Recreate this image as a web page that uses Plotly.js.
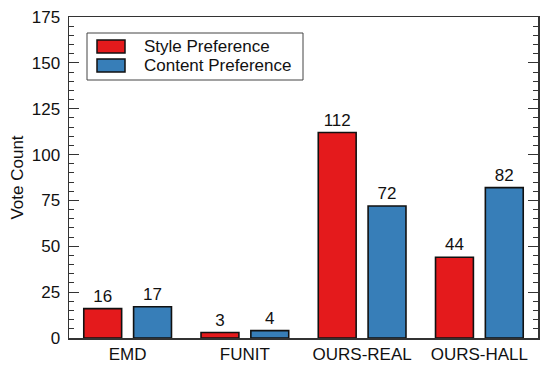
<!DOCTYPE html>
<html>
<head>
<meta charset="utf-8">
<script src="https://cdn.plot.ly/plotly-3.0.1.min.js"></script>
<style>html,body{margin:0;padding:0;background:#fff;}#chart{width:550px;height:369px;}</style>
</head>
<body>
<div id="chart"></div>
<script>
const categories = ["EMD", "FUNIT", "OURS-REAL", "OURS-HALL"];
const seriesNames = ["Style Preference", "Content Preference"];
const styleVotes = [16, 3, 112, 44];
const contentVotes = [17, 4, 72, 82];
const yTickVals = [0, 25, 50, 75, 100, 125, 150, 175];
const yTitle = "Vote Count";

const colors = ["#E41A1C", "#377EB8"];
const FONT = "Liberation Sans, Arial, sans-serif";
const FS = 17;

function barTrace(name, vals, color) {
  return {
    type: "bar",
    name: name,
    x: categories,
    y: vals,
    marker: {color: color, line: {color: "#111", width: 1.6}},
    text: vals.map(String),
    textposition: "outside",
    constraintext: "none",
    cliponaxis: false,
    textfont: {family: FONT, size: FS, color: "#111"},
    hoverinfo: "none"
  };
}

const traces = [
  barTrace(seriesNames[0], styleVotes, colors[0]),
  barTrace(seriesNames[1], contentVotes, colors[1])
];

// custom legend (pixel geometry converted to paper coords)
const L = 69, R = 538, T = 17, B = 338;
const px = v => (v - L) / (R - L);
const py = v => (B - v) / (B - T);
const shapes = [
  {type: "rect", xref: "paper", yref: "paper", x0: px(87), x1: px(303), y0: py(80), y1: py(33),
   line: {color: "#444", width: 1}, fillcolor: "#fff", layer: "above"},
  {type: "rect", xref: "paper", yref: "paper", x0: px(97), x1: px(125), y0: py(53), y1: py(40),
   line: {color: "#111", width: 1.5}, fillcolor: colors[0], layer: "above"},
  {type: "rect", xref: "paper", yref: "paper", x0: px(97), x1: px(125), y0: py(72), y1: py(59),
   line: {color: "#111", width: 1.5}, fillcolor: colors[1], layer: "above"}
];
const annotations = [
  {xref: "paper", yref: "paper", x: px(142), y: py(46.5), xanchor: "left", yanchor: "middle",
   text: seriesNames[0], showarrow: false, font: {family: FONT, size: FS, color: "#111"}},
  {xref: "paper", yref: "paper", x: px(142), y: py(65.5), xanchor: "left", yanchor: "middle",
   text: seriesNames[1], showarrow: false, font: {family: FONT, size: FS, color: "#111"}}
];

const layout = {
  width: 550, height: 369,
  margin: {l: L, r: 550 - R, t: T, b: 369 - B, pad: 0},
  paper_bgcolor: "#fff", plot_bgcolor: "#fff",
  font: {family: FONT, size: FS, color: "#111"},
  showlegend: false,
  barmode: "group",
  bargap: 0.15,
  bargroupgap: 0.24,
  xaxis: {
    type: "category",
    range: [-0.5, 3.5],
    showline: true, linecolor: "#333", linewidth: 1.5, mirror: true,
    ticks: "", showgrid: false, zeroline: false,
    tickfont: {family: FONT, size: FS, color: "#111"}
  },
  yaxis: {
    range: [0, 175],
    tickvals: yTickVals,
    showline: true, linecolor: "#333", linewidth: 1.5, mirror: "ticks",
    ticks: "inside", ticklen: 10, tickwidth: 1.2, tickcolor: "#333",
    minor: {dtick: 5, ticks: "inside", ticklen: 5, tickwidth: 1, tickcolor: "#333", showgrid: false},
    showgrid: false, zeroline: false,
    ticklabelstandoff: 4,
    tickfont: {family: FONT, size: FS, color: "#111"},
    title: {text: yTitle, font: {family: FONT, size: FS, color: "#111"}, standoff: 4}
  },
  shapes: shapes,
  annotations: annotations
};

Plotly.newPlot("chart", traces, layout, {staticPlot: true, displayModeBar: false});
</script>
</body>
</html>
